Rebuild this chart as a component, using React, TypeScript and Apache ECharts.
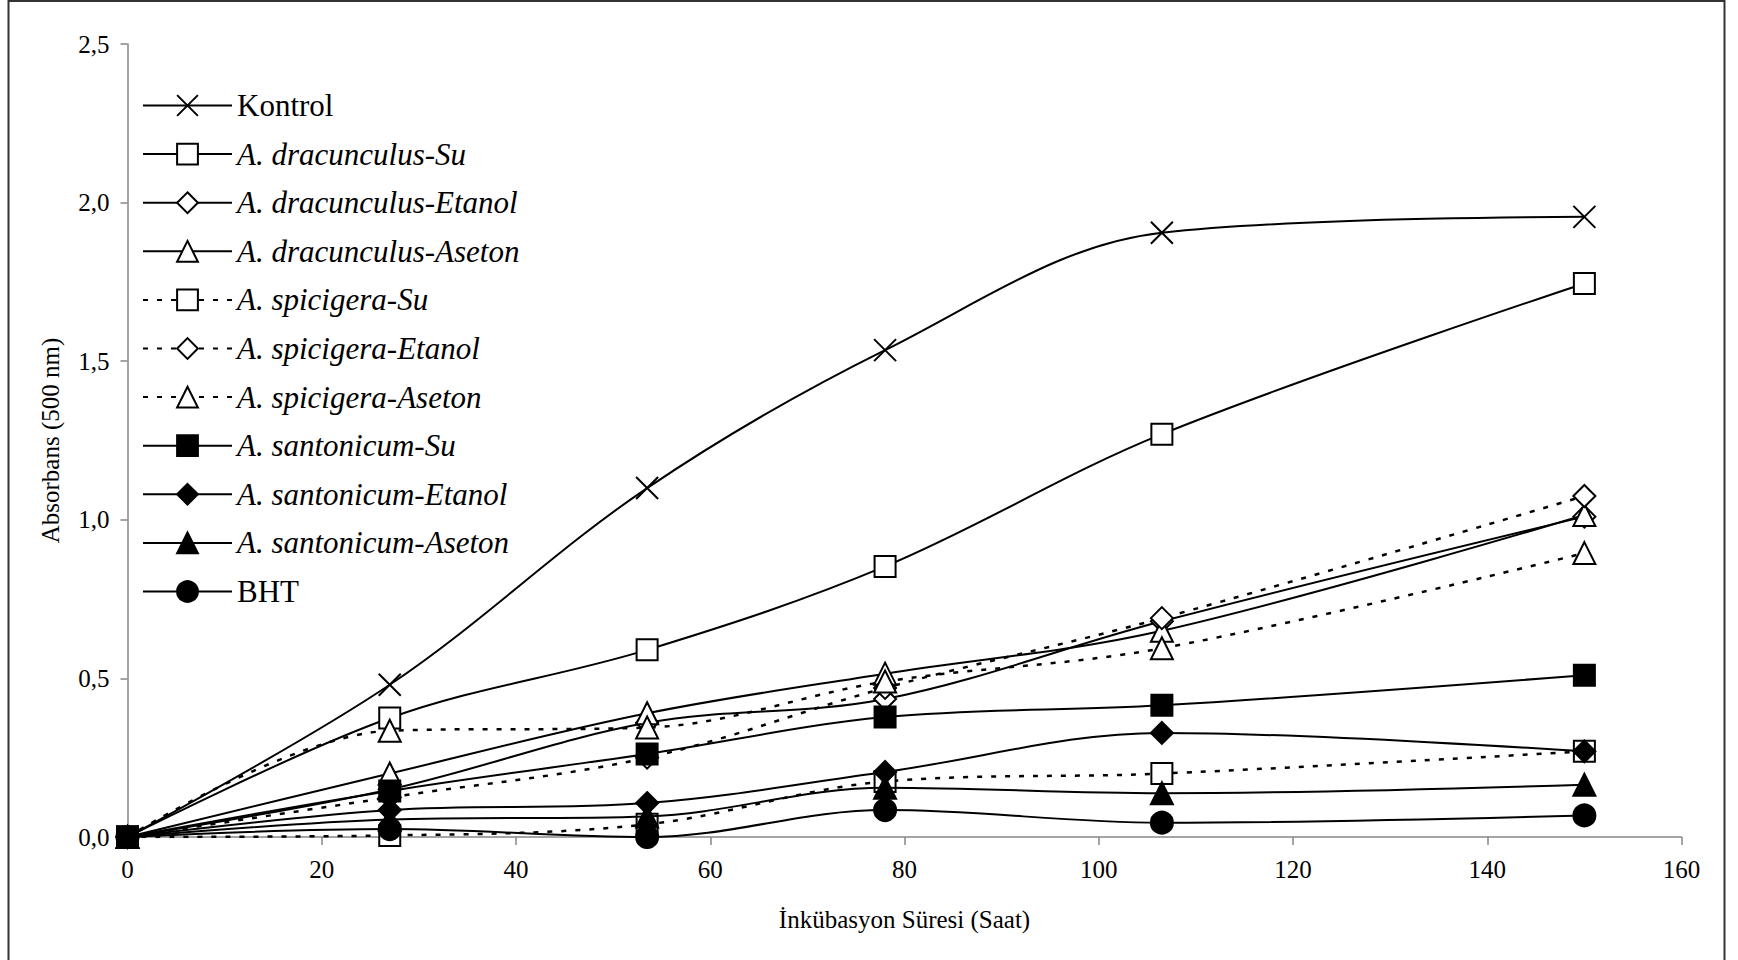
import React, { useEffect, useRef } from "react";
import * as echarts from "echarts";

const hours = [0, 27, 53.5, 78, 106.5, 150];

const kontrol = [0, 0.48, 1.1, 1.535, 1.905, 1.955];
const dracunculusSu = [0, 0.375, 0.59, 0.853, 1.27, 1.745];
const dracunculusEtanol = [0, 0.15, 0.36, 0.435, 0.68, 1.01];
const dracunculusAseton = [0, 0.2, 0.39, 0.515, 0.65, 1.015];
const spicigeraSu = [0, 0.005, 0.04, 0.175, 0.2, 0.27];
const spicigeraEtanol = [0, 0.125, 0.25, 0.47, 0.69, 1.075];
const spicigeraAseton = [0, 0.335, 0.345, 0.49, 0.595, 0.895];
const santonicumSu = [0, 0.145, 0.262, 0.378, 0.415, 0.51];
const santonicumEtanol = [0, 0.085, 0.107, 0.205, 0.328, 0.27];
const santonicumAseton = [0, 0.055, 0.065, 0.155, 0.138, 0.165];
const bht = [0, 0.025, 0.0, 0.085, 0.045, 0.068];

const seriesNames = [
  "Kontrol",
  "A. dracunculus-Su",
  "A. dracunculus-Etanol",
  "A. dracunculus-Aseton",
  "A. spicigera-Su",
  "A. spicigera-Etanol",
  "A. spicigera-Aseton",
  "A. santonicum-Su",
  "A. santonicum-Etanol",
  "A. santonicum-Aseton",
  "BHT",
];
const seriesValues = [
  kontrol,
  dracunculusSu,
  dracunculusEtanol,
  dracunculusAseton,
  spicigeraSu,
  spicigeraEtanol,
  spicigeraAseton,
  santonicumSu,
  santonicumEtanol,
  santonicumAseton,
  bht,
];

const xTicks = { min: 0, max: 160, interval: 20 };
const yTicks = { min: 0, max: 2.5, interval: 0.5 };

const FONT = "'Liberation Serif', 'Times New Roman', serif";
const CROSS = "path://M0,0L20,20M20,0L0,20";

type Look = { symbol: string; filled: boolean; dotted: boolean; size: number };
const looks: Look[] = [
  { symbol: CROSS, filled: false, dotted: false, size: 22 },
  { symbol: "rect", filled: false, dotted: false, size: 21 },
  { symbol: "diamond", filled: false, dotted: false, size: 22 },
  { symbol: "triangle", filled: false, dotted: false, size: 22 },
  { symbol: "rect", filled: false, dotted: true, size: 21 },
  { symbol: "diamond", filled: false, dotted: true, size: 22 },
  { symbol: "triangle", filled: false, dotted: true, size: 22 },
  { symbol: "rect", filled: true, dotted: false, size: 21 },
  { symbol: "diamond", filled: true, dotted: false, size: 22 },
  { symbol: "triangle", filled: true, dotted: false, size: 22 },
  { symbol: "circle", filled: true, dotted: false, size: 22 },
];

export default function App() {
  const ref = useRef<HTMLDivElement>(null);

  useEffect(() => {
    if (!ref.current) return;
    const chart = echarts.init(ref.current, undefined, { renderer: "svg" });

    const series = seriesNames.map((name, i) => {
      const look = looks[i];
      const isCross = look.symbol === CROSS;
      return {
        name,
        type: "line",
        data: hours.map((h, j) => [h, seriesValues[i][j]]),
        smooth: 0.35,
        symbol: look.symbol,
        symbolSize: look.size,
        showSymbol: true,
        lineStyle: {
          color: "#000",
          width: look.dotted ? 2.5 : 2,
          type: look.dotted ? [5, 9] : "solid",
        },
        itemStyle: {
          color: look.filled ? "#000" : isCross ? "rgba(0,0,0,0)" : "#fff",
          borderColor: "#000",
          borderWidth: 2,
        },
        emphasis: { disabled: true },
        z: 2 + i,
      };
    });

    chart.setOption({
      animation: false,
      backgroundColor: "#fff",
      textStyle: { fontFamily: FONT, color: "#000" },
      grid: { left: 127.5, right: 56.5, top: 44, bottom: 123 },
      graphic: [
        {
          type: "rect",
          shape: { x: 8.5, y: 1, width: 1716, height: 990 },
          style: { fill: "none", stroke: "#333", lineWidth: 2 },
          silent: true,
        },
      ],
      legend: {
        orient: "vertical",
        left: 142,
        top: 90,
        padding: 0,
        itemWidth: 89,
        itemHeight: 26,
        itemGap: 17.6,
        textStyle: { fontFamily: FONT, fontSize: 31, lineHeight: 31, color: "#000" },
        data: seriesNames.map((n) => ({
          name: n,
          textStyle: { fontStyle: n.startsWith("A.") ? "italic" : "normal" },
        })),
        selectedMode: false,
      },
      xAxis: {
        type: "value",
        min: xTicks.min,
        max: xTicks.max,
        interval: xTicks.interval,
        name: "İnkübasyon Süresi (Saat)",
        nameLocation: "middle",
        nameGap: 70,
        nameTextStyle: { fontFamily: FONT, fontSize: 25, color: "#000" },
        axisLine: { lineStyle: { color: "#868686", width: 1.5 } },
        axisTick: { show: true, length: 8, lineStyle: { color: "#868686", width: 1.5 } },
        axisLabel: { fontFamily: FONT, fontSize: 25, color: "#000", margin: 20 },
        splitLine: { show: false },
      },
      yAxis: {
        type: "value",
        min: yTicks.min,
        max: yTicks.max,
        interval: yTicks.interval,
        name: "Absorbans (500 nm)",
        nameLocation: "middle",
        nameGap: 65,
        nameTextStyle: { fontFamily: FONT, fontSize: 25, color: "#000" },
        axisLine: { show: true, lineStyle: { color: "#868686", width: 1.5 } },
        axisTick: { show: true, length: 7, lineStyle: { color: "#868686", width: 1.5 } },
        axisLabel: {
          fontFamily: FONT,
          fontSize: 25,
          color: "#000",
          margin: 18,
          formatter: (v: number) => v.toFixed(1).replace(".", ","),
        },
        splitLine: { show: false },
      },
      series,
    });

    return () => chart.dispose();
  }, []);

  return (
    <div
      ref={ref}
      style={{ position: "absolute", left: 0, top: 0, width: 1738, height: 960 }}
    />
  );
}
